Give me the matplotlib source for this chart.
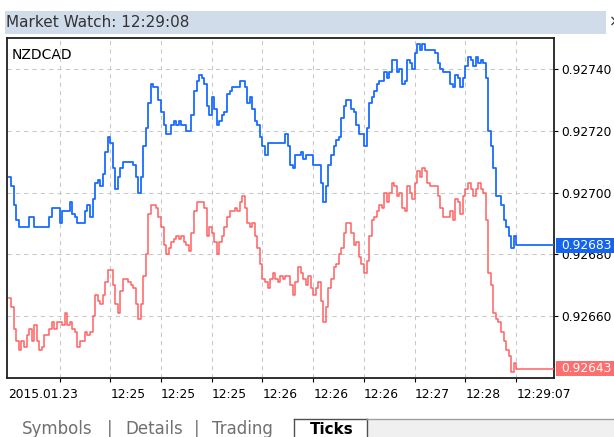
import numpy as np
import matplotlib
matplotlib.use('Agg')
import matplotlib.pyplot as plt
from matplotlib.patches import Rectangle
from matplotlib.lines import Line2D
from matplotlib.transforms import blended_transform_factory, offset_copy

# ---- data ----
symbol = 'NZDCAD'
window_title = 'Market Watch: 12:29:08'
date_label = '2015.01.23'
time_labels = ['', '12:25', '12:25', '12:25', '12:26', '12:26', '12:26',
               '12:27', '12:28', '12:29:07']
price_ticks = [0.92660, 0.92680, 0.92700, 0.92720, 0.92740]
tab_names = ['Symbols', 'Details', 'Trading', 'Ticks']

# prices in points (1e-5) above 0.92000, one value per tick
ask_pts = [
    705, 702, 696, 691, 689, 689, 689, 689, 692, 692,
    689, 689, 689, 689, 689, 689, 692, 695, 695, 695,
    690, 694, 694, 694, 697, 693, 692, 690, 690, 690,
    694, 696, 692, 698, 703, 704, 702, 706, 713, 718,
    716, 708, 701, 705, 708, 710, 710, 710, 710, 709,
    705, 700, 705, 715, 721, 729, 735, 734, 734, 730,
    726, 722, 719, 719, 722, 723, 722, 723, 722, 722,
    720, 720, 725, 733, 736, 738, 737, 735, 728, 725,
    731, 727, 722, 723, 725, 726, 732, 733, 734, 734,
    734, 736, 736, 734, 729, 731, 727, 723, 722, 718,
    715, 712, 716, 716, 716, 716, 716, 716, 716, 719,
    715, 709, 708, 712, 712, 713, 711, 712, 712, 712,
    709, 709, 709, 703, 697, 702, 709, 712, 715, 717,
    718, 724, 728, 730, 730, 727, 726, 722, 719, 719,
    715, 721, 729, 731, 733, 735, 736, 736, 739, 737,
    739, 743, 743, 739, 740, 735, 736, 743, 742, 740,
    745, 748, 746, 748, 746, 746, 746, 746, 745, 742,
    740, 739, 739, 739, 735, 734, 738, 737, 734, 737,
    741, 744, 743, 741, 744, 742, 743, 742, 737, 720,
    715, 708, 699, 699, 696, 691, 689, 686, 682, 686,
    683,
]
bid_pts = [
    666, 663, 656, 652, 649, 652, 650, 654, 656, 652,
    657, 652, 649, 650, 654, 654, 656, 658, 656, 658,
    658, 657, 661, 657, 658, 656, 655, 650, 652, 652,
    655, 654, 655, 660, 667, 665, 664, 667, 671, 675,
    675, 670, 664, 661, 668, 672, 672, 671, 670, 669,
    664, 659, 664, 673, 680, 693, 696, 696, 695, 692,
    689, 683, 680, 682, 684, 685, 686, 685, 686, 684,
    683, 681, 687, 694, 697, 697, 697, 695, 686, 689,
    687, 684, 680, 684, 686, 689, 692, 694, 694, 695,
    694, 697, 699, 695, 690, 689, 690, 686, 682, 677,
    672, 671, 669, 672, 674, 672, 671, 673, 672, 673,
    673, 670, 667, 671, 676, 674, 672, 670, 673, 669,
    667, 669, 671, 665, 658, 663, 669, 672, 676, 677,
    680, 682, 687, 690, 690, 687, 683, 684, 679, 677,
    674, 678, 686, 691, 692, 694, 696, 695, 700, 697,
    700, 703, 702, 699, 700, 695, 694, 702, 700, 698,
    703, 707, 705, 708, 707, 703, 702, 702, 702, 699,
    695, 692, 692, 692, 694, 691, 698, 697, 693, 699,
    701, 703, 701, 699, 701, 703, 701, 700, 691, 674,
    670, 661, 659, 658, 655, 652, 649, 647, 642, 645,
    643,
]

C_ASK = '#1a6cff'
C_BID = '#ff6262'
C_ASK_BOX = '#1464f0'
C_BID_BOX = '#ff6e6e'

W, H = 614, 437


def fx(px):
    return px / W


def fy(py):
    return 1 - py / H


def fig_line(fig, x0, y0, x1, y1, color='#505050', lw=1.0):
    fig.add_artist(Line2D([fx(x0), fx(x1)], [fy(y0), fy(y1)],
                          transform=fig.transFigure, color=color, lw=lw))


fig = plt.figure(figsize=(W / 100, H / 100), dpi=100)
fig.patch.set_facecolor('white')

# window title bar
fig.add_artist(Rectangle((fx(5), fy(34)), fx(606) - fx(5), fy(11) - fy(34),
                         transform=fig.transFigure, facecolor='#d0dcea',
                         edgecolor='none'))
fig.text(fx(6), fy(22.5), window_title, fontsize=11, color='#333333',
         ha='left', va='center')
fig.text(fx(609), fy(22.5), '\u00d7', fontsize=11, color='#333333',
         ha='left', va='center')

# chart
ax = fig.add_axes([fx(7), fy(378), fx(554) - fx(7), fy(38) - fy(378)])
ask = 0.92 + np.array(ask_pts) / 1e5
bid = 0.92 + np.array(bid_pts) / 1e5
ticks = np.arange(len(ask))
x_right = 214.9
xe = np.append(ticks, x_right)

ax.plot(xe, np.append(bid, bid[-1]), color=C_BID, lw=1.1,
        drawstyle='steps-post', zorder=3)
ax.plot(xe, np.append(ask, ask[-1]), color=C_ASK, lw=1.3,
        drawstyle='steps-post', zorder=4)

ax.set_xticks(np.arange(20, 201, 20))
ax.set_xticklabels(time_labels)
for lbl in ax.get_xticklabels():
    lbl.set_ha('left')
ax.set_yticks(price_ticks)
ax.set_yticklabels([f'{p:.5f}' for p in price_ticks])
ax.yaxis.tick_right()
ax.tick_params(axis='x', direction='out', length=3, width=0.8, pad=4,
               labelsize=8.8, colors='black')
ax.tick_params(axis='y', direction='out', length=3, width=0.8, pad=2.5,
               labelsize=8.8, colors='black')
ax.grid(True, color='#c8c8c8', linestyle=(0, (4, 4)), linewidth=0.75)
for s in ax.spines.values():
    s.set_color('#202020')
    s.set_linewidth(1.3)

ax.text(0.009, 0.97, symbol, transform=ax.transAxes, fontsize=10,
        color='black', ha='left', va='top')

lab_trans = offset_copy(ax.get_xaxis_transform(), fig=fig, x=0.5, y=-7,
                        units='points')
ax.text(-0.7, 0, date_label, transform=lab_trans, fontsize=8.8,
        ha='left', va='top', clip_on=False)

# current price labels on the right scale
trans = blended_transform_factory(fig.transFigure, ax.transData)
box_h = 15 * (0.0011 / 340)
for val, col in ((ask[-1], C_ASK_BOX), (bid[-1], C_BID_BOX)):
    ax.add_patch(Rectangle((fx(556), val - box_h / 2), 1 - fx(556), box_h,
                           transform=trans, facecolor=col, edgecolor='none',
                           clip_on=False, zorder=5))
    ax.text(fx(561.5), val, f'{val:.5f}', transform=trans, color='white',
            fontsize=8.8, ha='left', va='center', clip_on=False, zorder=6)

ax.set_xlim(-0.7, x_right)
ax.set_ylim(0.92640, 0.92750)

# bottom tabs
fig.add_artist(Rectangle((fx(367), fy(440)), fx(614) - fx(367), fy(419) - fy(440),
                         transform=fig.transFigure, facecolor='#f0f0f0',
                         edgecolor='none'))
fig_line(fig, 294, 440, 294, 419)
fig_line(fig, 294, 419, 367, 419)
fig_line(fig, 367, 440, 367, 419)
fig_line(fig, 367, 419, 614, 419, color='#a0a0a0')
tab_x = [22, 125, 212, 310]
for name, tx in zip(tab_names, tab_x):
    active = name == 'Ticks'
    fig.text(fx(tx), fy(429), name, fontsize=11 if active else 12,
             fontweight='bold' if active else 'normal',
             color='black' if active else '#707070', ha='left', va='center')
for sx in (110, 197):
    fig.text(fx(sx), fy(429), '|', fontsize=12, color='#707070',
             ha='center', va='center')

fig.savefig('out.png', dpi=100, facecolor='white')
